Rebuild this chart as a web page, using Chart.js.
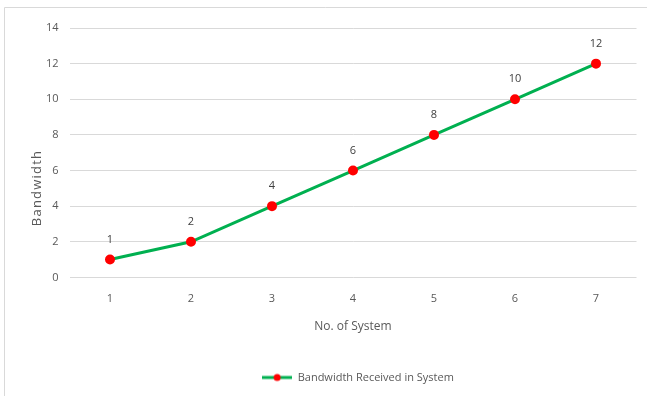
<!DOCTYPE html>
<html>
<head>
<meta charset="utf-8">
<script src="https://cdn.jsdelivr.net/npm/chart.js@4/dist/chart.umd.min.js"></script>
<style>
  html, body { margin: 0; padding: 0; background: #ffffff; }
  #wrap { width: 647px; height: 396px; }
</style>
</head>
<body>
<div id="wrap"><canvas id="chart" width="647" height="396"></canvas></div>
<script>
// Number of systems on the x axis and bandwidth received by each
const systems = ['1', '2', '3', '4', '5', '6', '7'];
const bandwidth = [1, 2, 4, 6, 8, 10, 12];
const seriesName = 'Bandwidth Received in System';
const xTitle = 'No. of System';
const yTitle = 'Bandwidth';
const yTicks = [0, 2, 4, 6, 8, 10, 12, 14];

const FONT = '"Open Sans", "DejaVu Sans", sans-serif';
const TEXT = '#595959';
const LINE = '#00b050';
const DOT = '#ff0000';
const GRID = '#d9d9d9';

// Legend marker: a short line with a dot in the middle
function legendMarker() {
  const c = document.createElement('canvas');
  c.width = 30; c.height = 10;
  const g = c.getContext('2d');
  g.strokeStyle = LINE; g.lineWidth = 3;
  g.beginPath(); g.moveTo(0, 5); g.lineTo(30, 5); g.stroke();
  g.fillStyle = DOT;
  g.beginPath(); g.arc(15, 5, 3.5, 0, Math.PI * 2); g.fill();
  return c;
}

// Thin frame along the top and left edges
const framePlugin = {
  id: 'frame',
  afterLayout(chart) {
    // nudge the legend a little to the right of the plot centre
    if (chart.legend) { chart.legend.left += 5; chart.legend.right += 5; }
  },
  beforeDraw(chart) {
    const ctx = chart.ctx;
    ctx.save();
    ctx.strokeStyle = GRID;
    ctx.lineWidth = 1;
    ctx.beginPath();
    ctx.moveTo(4.5, chart.height);
    ctx.lineTo(4.5, 7.5);
    ctx.lineTo(chart.width, 7.5);
    ctx.stroke();
    ctx.restore();
  }
};

// Value labels above each point, plus the rotated y-axis title
const labelPlugin = {
  id: 'valueLabels',
  afterDatasetsDraw(chart) {
    const ctx = chart.ctx;
    ctx.save();
    ctx.font = '11px ' + FONT;
    ctx.fillStyle = '#404040';
    ctx.textAlign = 'center';
    ctx.textBaseline = 'middle';
    chart.data.datasets.forEach((ds, i) => {
      chart.getDatasetMeta(i).data.forEach((pt, j) => {
        ctx.fillText(String(ds.data[j]), pt.x, pt.y - 20);
      });
    });
    ctx.translate(37, 188);
    ctx.rotate(-Math.PI / 2);
    ctx.font = '13px ' + FONT;
    ctx.letterSpacing = '1.2px';
    ctx.fillStyle = TEXT;
    ctx.fillText(yTitle, 0, 0);
    ctx.restore();
  }
};

new Chart(document.getElementById('chart'), {
  type: 'line',
  data: {
    labels: systems,
    datasets: [{
      label: seriesName,
      data: bandwidth,
      borderColor: LINE,
      borderWidth: 3,
      backgroundColor: DOT,
      pointBackgroundColor: DOT,
      pointBorderColor: DOT,
      pointRadius: 3.5,
      pointHoverRadius: 3.5,
      tension: 0,
      fill: false
    }]
  },
  options: {
    responsive: false,
    animation: false,
    events: [],
    layout: { padding: { top: 28, right: 10.5, bottom: 3, left: 20 } },
    plugins: {
      tooltip: { enabled: false },
      legend: {
        position: 'bottom',
        fullSize: false,
        labels: {
          usePointStyle: true,
          pointStyleWidth: 30,
          color: TEXT,
          font: { family: FONT, size: 11 },
          padding: 10,
          generateLabels(chart) {
            return chart.data.datasets.map((ds, i) => ({
              text: ds.label,
              pointStyle: legendMarker(),
              fillStyle: DOT,
              strokeStyle: LINE,
              lineWidth: 0,
              hidden: false,
              datasetIndex: i,
              fontColor: TEXT
            }));
          }
        }
      }
    },
    scales: {
      x: {
        offset: true,
        afterFit(scale) { scale.height = 84.6; },
        grid: { display: false, drawTicks: false },
        border: { display: false },
        ticks: { color: TEXT, font: { family: FONT, size: 11 }, padding: 15 },
        title: {
          display: true,
          text: xTitle,
          color: TEXT,
          font: { family: FONT, size: 12 },
          padding: { top: 0, bottom: 28.4 }
        }
      },
      y: {
        min: 0,
        max: 14,
        afterBuildTicks(scale) { scale.ticks = yTicks.map(v => ({ value: v })); },
        afterFit(scale) { scale.width = 49.5; },
        grid: { color: GRID, lineWidth: 1, drawTicks: false },
        border: { display: false },
        ticks: { color: TEXT, font: { family: FONT, size: 11 }, padding: 11 }
      }
    }
  },
  plugins: [framePlugin, labelPlugin]
});
</script>
</body>
</html>
